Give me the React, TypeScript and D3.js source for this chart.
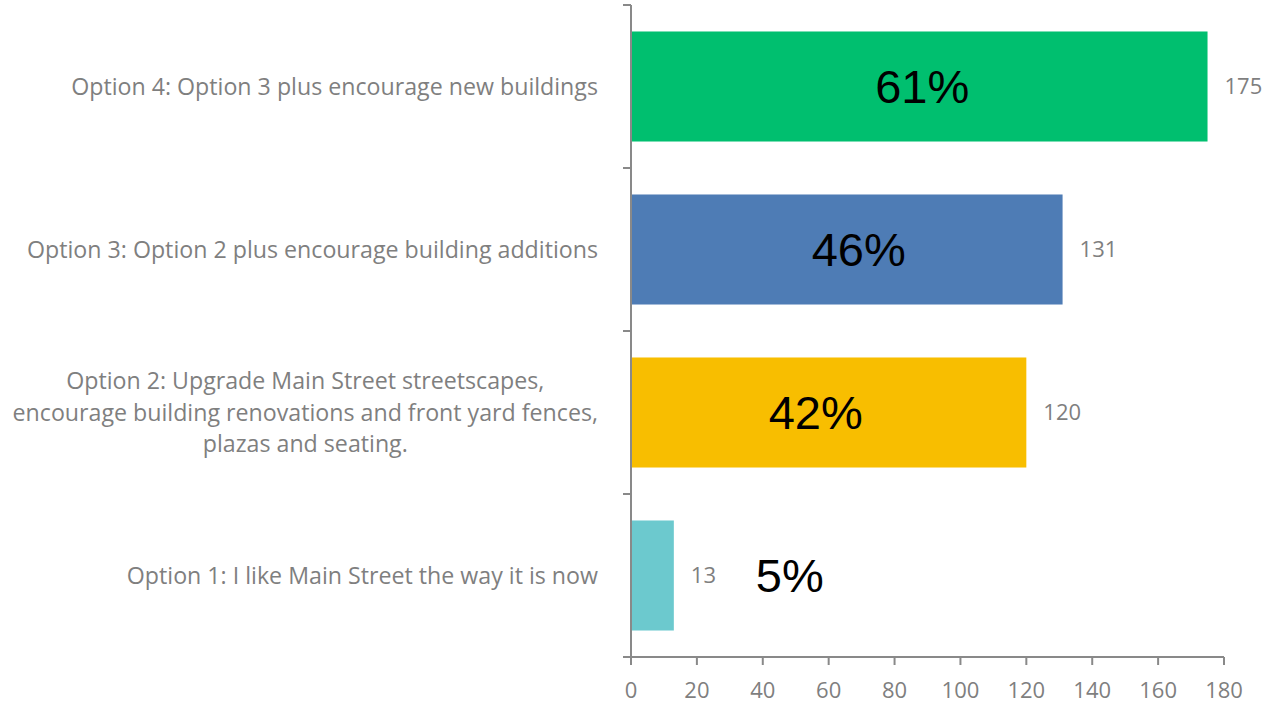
import React, { useEffect, useRef } from "react";
import * as d3 from "d3";

const categories = [
  "Option 4: Option 3 plus encourage new buildings",
  "Option 3: Option 2 plus encourage building additions",
  "Option 2: Upgrade Main Street streetscapes,\nencourage building renovations and front yard fences,\nplazas and seating.",
  "Option 1: I like Main Street the way it is now",
];
const counts = [175, 131, 120, 13];
const percentLabels = ["61%", "46%", "42%", "5%"];
const barColors = ["#00BF6F", "#4E7CB5", "#F8BE00", "#6CC9CE"];
const xTicks = [0, 20, 40, 60, 80, 100, 120, 140, 160, 180];

const W = 1274;
const H = 704;

export default function App() {
  const ref = useRef<SVGSVGElement | null>(null);

  useEffect(() => {
    const svg = d3.select(ref.current);
    svg.selectAll("*").remove();

    const axisColor = "#898989";
    const textColor = "#7F7F7F";
    const uiFont = "'Open Sans', sans-serif";

    const x = d3.scaleLinear().domain([0, 180]).range([631, 1224]);
    const y = d3
      .scaleBand<number>()
      .domain(d3.range(categories.length))
      .range([5, 657])
      .paddingInner(0.325)
      .paddingOuter(0.1625);

    // bars
    svg
      .append("g")
      .selectAll("rect")
      .data(counts)
      .join("rect")
      .attr("x", x(0))
      .attr("y", (_, i) => y(i)!)
      .attr("width", (d) => x(d) - x(0))
      .attr("height", y.bandwidth())
      .attr("fill", (_, i) => barColors[i]);

    // value labels
    svg
      .append("g")
      .selectAll("text")
      .data(counts)
      .join("text")
      .attr("x", (d) => x(d) + 17)
      .attr("y", (_, i) => y(i)! + y.bandwidth() / 2)
      .attr("dy", "0.35em")
      .attr("font-family", uiFont)
      .attr("font-size", 22)
      .attr("fill", textColor)
      .text((d) => d);

    // percentage labels
    const nudges = [3, 12, -13, 0];
    svg
      .append("g")
      .selectAll("text")
      .data(percentLabels)
      .join("text")
      .attr("x", (_, i) => {
        const c = counts[i];
        const base = c < 30 ? x(c) + 116 : (x(0) + x(c)) / 2;
        return base + nudges[i];
      })
      .attr("y", (_, i) => y(i)! + y.bandwidth() / 2)
      .attr("dy", "0.35em")
      .attr("text-anchor", "middle")
      .attr("font-family", "'Liberation Sans', Arial, sans-serif")
      .attr("font-size", 47)
      .attr("fill", "#000")
      .text((d) => d);

    // category axis (vertical line with ticks at band boundaries)
    const ax = svg.append("g");
    ax.append("line")
      .attr("x1", x(0))
      .attr("x2", x(0))
      .attr("y1", 5)
      .attr("y2", 657)
      .attr("stroke", axisColor)
      .attr("stroke-width", 2);
    const step = y.step();
    const bounds = d3.range(categories.length + 1).map((i) => 5 + i * step);
    ax.selectAll("line.tick")
      .data(bounds)
      .join("line")
      .attr("class", "tick")
      .attr("x1", x(0) - 8)
      .attr("x2", x(0))
      .attr("y1", (d) => d)
      .attr("y2", (d) => d)
      .attr("stroke", axisColor)
      .attr("stroke-width", 2);

    // value axis
    const bx = svg.append("g");
    bx.append("line")
      .attr("x1", x(0))
      .attr("x2", x(180))
      .attr("y1", 657)
      .attr("y2", 657)
      .attr("stroke", axisColor)
      .attr("stroke-width", 2);
    bx.selectAll("line.tick")
      .data(xTicks)
      .join("line")
      .attr("class", "tick")
      .attr("x1", (d) => x(d))
      .attr("x2", (d) => x(d))
      .attr("y1", 657)
      .attr("y2", 665)
      .attr("stroke", axisColor)
      .attr("stroke-width", 2);
    bx.selectAll("text")
      .data(xTicks)
      .join("text")
      .attr("x", (d) => x(d))
      .attr("y", 698)
      .attr("text-anchor", "middle")
      .attr("font-family", uiFont)
      .attr("font-size", 22)
      .attr("fill", textColor)
      .text((d) => d);

    // category labels
    const labelRight = 598;
    const lineH = 31.5;
    categories.forEach((cat, i) => {
      const lines = cat.split("\n");
      const g = svg.append("g");
      const texts = lines.map((ln, j) =>
        g
          .append("text")
          .attr("y", y(i)! + y.bandwidth() / 2 + (j - (lines.length - 1) / 2) * lineH)
          .attr("dy", "0.35em")
          .attr("text-anchor", "middle")
          .attr("font-family", uiFont)
          .attr("font-size", 23.2)
          .attr("fill", textColor)
          .text(ln)
      );
      const maxW = d3.max(texts, (t) => (t.node() as SVGTextElement).getComputedTextLength()) || 0;
      texts.forEach((t) => t.attr("x", labelRight - maxW / 2));
    });
  }, []);

  return (
    <svg
      ref={ref}
      width={W}
      height={H}
      style={{ position: "absolute", left: 0, top: 0, background: "#fff" }}
    />
  );
}
